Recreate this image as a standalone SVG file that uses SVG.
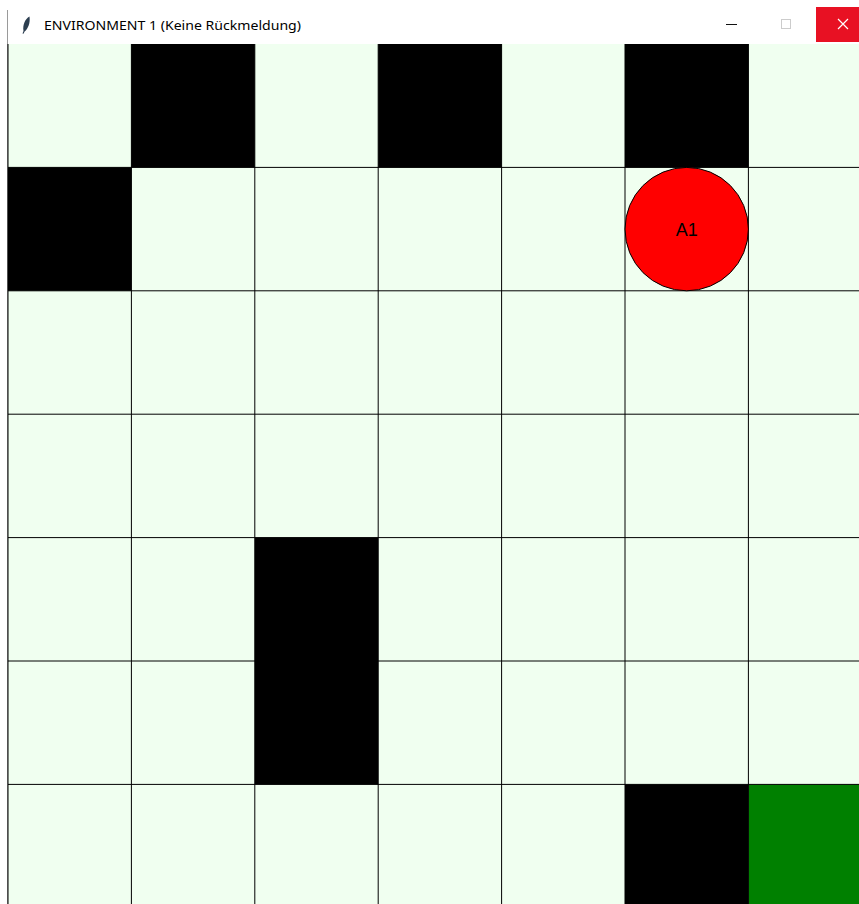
<svg xmlns="http://www.w3.org/2000/svg" width="859" height="904" viewBox="0 0 859 904">
  <style>
    .cell { fill: #F0FFF0; }
    .wall { fill: #000000; }
    .goal { fill: #008000; }
    .grid { stroke: #000000; stroke-width: 1; fill: none; }
    .title { font-family: "Noto Sans", "Liberation Sans", sans-serif; font-size: 13px; fill: #000000; }
    .label { font-family: "Liberation Sans", Arial, sans-serif; font-size: 18px; fill: #000000; }
  </style>
  <rect x="0" y="0" width="859" height="904" fill="#FFFFFF"/>
  <g id="titlebar">
    <line x1="7.5" y1="10" x2="7.5" y2="904" stroke="#9a9a9a" stroke-width="1"/>
    <path d="M29.5 16.5 C 25 19, 22.5 25, 23.5 31 L 22.5 33.5 L 23.5 33.8 L 24.6 31.5 C 28 29, 30.5 23, 29.5 16.5 Z" fill="#2c3e50"/>
    <text class="title" x="44" y="30" textLength="257" lengthAdjust="spacingAndGlyphs">ENVIRONMENT 1 (Keine Rückmeldung)</text>
    <line x1="726" y1="24.5" x2="737" y2="24.5" stroke="#111111" stroke-width="1"/>
    <rect x="781.5" y="19.5" width="9" height="9" fill="none" stroke="#cccccc" stroke-width="1"/>
    <rect x="816" y="7" width="43" height="35" fill="#E81123"/>
    <path d="M838 19 L848 29 M848 19 L838 29" stroke="#FFFFFF" stroke-width="1.2"/>
  </g>
  <g id="board">
    <rect class="cell" x="8" y="44" width="851" height="860"/>
    <g id="walls">
      <rect class="wall" x="131.4" y="44" width="123.4" height="123.4"/>
      <rect class="wall" x="378.2" y="44" width="123.4" height="123.4"/>
      <rect class="wall" x="625" y="44" width="123.4" height="123.4"/>
      <rect class="wall" x="8" y="167.4" width="123.4" height="123.4"/>
      <rect class="wall" x="254.8" y="537.6" width="123.4" height="246.8"/>
      <rect class="wall" x="625" y="784.4" width="123.4" height="123.4"/>
    </g>
    <g id="goal">
      <rect class="goal" x="748.4" y="784.4" width="123.4" height="123.4"/>
    </g>
    <g id="gridlines" class="grid">
      <path d="M8 44 V904 M131.4 44 V904 M254.8 44 V904 M378.2 44 V904 M501.6 44 V904 M625 44 V904 M748.4 44 V904"/>
      <path d="M8 167.4 H859 M8 290.8 H859 M8 414.2 H859 M8 537.6 H859 M8 661 H859 M8 784.4 H859"/>
    </g>
  </g>
  <g id="agent-A1">
    <circle cx="686.7" cy="229.1" r="61.7" fill="#FF0000" stroke="#000000" stroke-width="1"/>
    <text class="label" x="686.7" y="236" text-anchor="middle">A1</text>
  </g>
</svg>
